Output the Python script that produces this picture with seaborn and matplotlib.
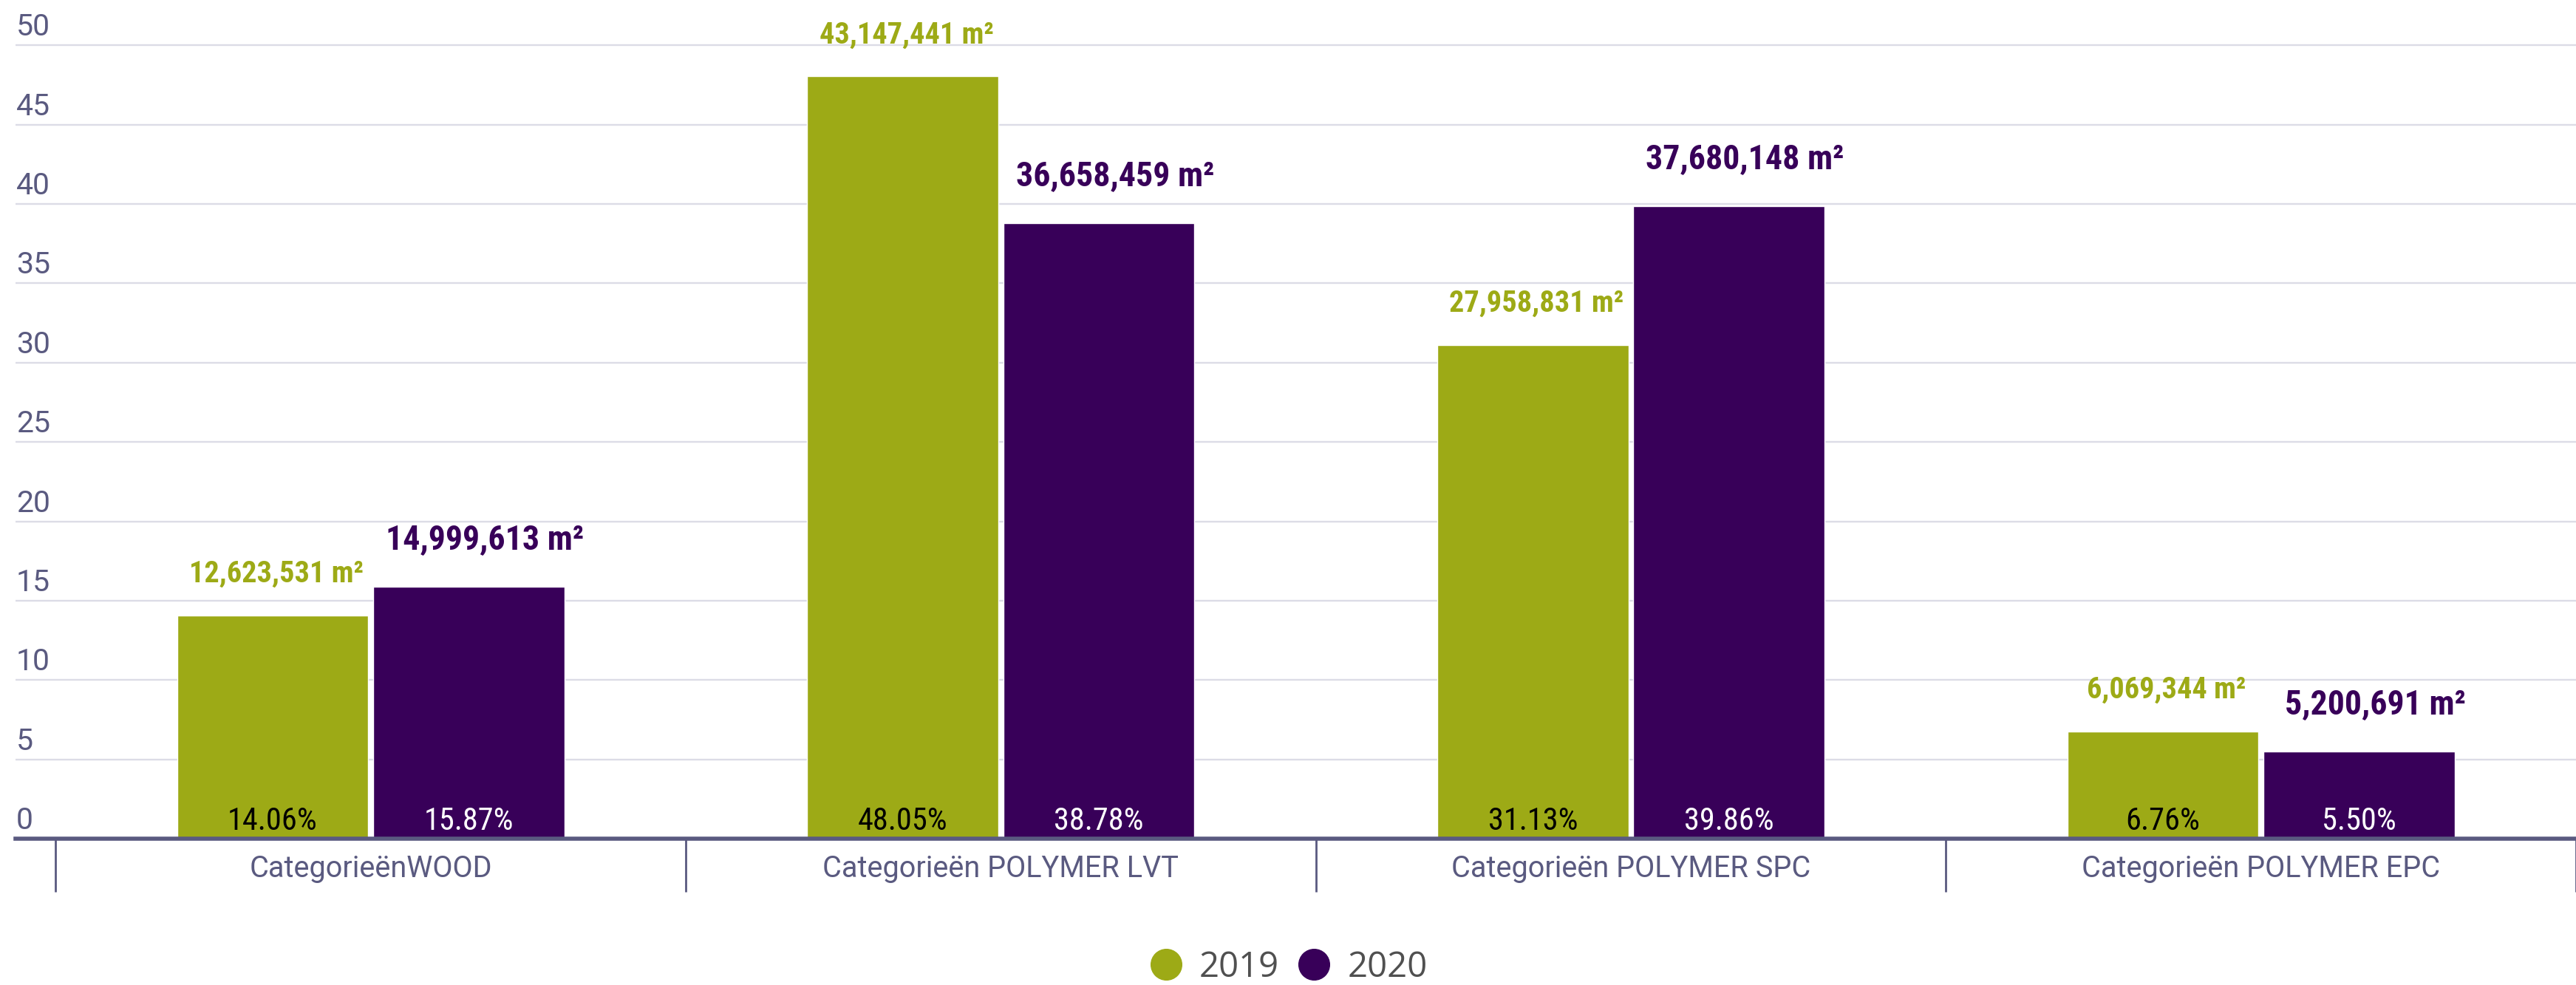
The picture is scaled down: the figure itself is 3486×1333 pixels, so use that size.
import numpy as np
import pandas as pd
import matplotlib
matplotlib.use("Agg")
import matplotlib.pyplot as plt
from matplotlib import font_manager
from matplotlib.lines import Line2D
import seaborn as sns

# ---- data ----
categories = ["CategorieënWOOD", "Categorieën POLYMER LVT",
              "Categorieën POLYMER SPC", "Categorieën POLYMER EPC"]
years = ["2019", "2020"]
share_2019 = [14.06, 48.05, 31.13, 6.76]
share_2020 = [15.87, 38.78, 39.86, 5.50]
area_2019 = ["12,623,531", "43,147,441", "27,958,831", "6,069,344"]
area_2020 = ["14,999,613", "36,658,459", "37,680,148", "5,200,691"]
y_ticks = [0, 5, 10, 15, 20, 25, 30, 35, 40, 45, 50]

GREEN = "#9DAA16"
PURPLE = "#380059"
AXIS_COL = "#5A5A80"
GRID_COL = "#DCDCE6"

df = pd.DataFrame({
    "category": categories * 2,
    "year": [years[0]] * 4 + [years[1]] * 4,
    "share": share_2019 + share_2020,
})

sns.set_theme(style="white")
avail = {f.name for f in font_manager.fontManager.ttflist}
COND = "Roboto Condensed" if "Roboto Condensed" in avail else "DejaVu Sans"
cond_kw = {"family": [COND, "DejaVu Sans"]}
if COND == "DejaVu Sans":
    cond_kw["stretch"] = "condensed"
plt.rcParams["font.family"] = ["Roboto", "DejaVu Sans"]

W, H = 3486, 1333
Y0 = 1135  # pixel row of value 0
fig = plt.figure(figsize=(W / 100, H / 100), dpi=100)
ax_left = 21 / W
ax = fig.add_axes([ax_left, (H - Y0) / H, 1 - ax_left, Y0 / H])

sns.barplot(data=df, x="category", y="share", hue="year",
            palette=[GREEN, PURPLE], width=0.622, gap=0.025,
            saturation=1, legend=False, ax=ax, errorbar=None)

ax.set_xlim(-0.5637, 3.481)
ax.set_ylim(0, 52.86)
ax.set_xlabel("")
ax.set_ylabel("")
for s in ["top", "right", "left"]:
    ax.spines[s].set_visible(False)
ax.spines["bottom"].set_color(AXIS_COL)
ax.spines["bottom"].set_linewidth(4.0)
ax.spines["bottom"].set_zorder(5)

# grid + y labels (inside, above the lines)
ax.set_yticks(y_ticks)
ax.set_yticklabels([])
ax.tick_params(axis="y", length=0, left=False)
ax.yaxis.grid(True, color=GRID_COL, linewidth=1.7)
ax.set_axisbelow(True)
ytrans = matplotlib.transforms.blended_transform_factory(ax.transAxes, ax.transData)
for v in y_ticks:
    ax.annotate(str(v), xy=(0.0, v), xycoords=ytrans, xytext=(1, 13),
                textcoords="offset pixels", ha="left", va="baseline",
                fontsize=29.5, color=AXIS_COL)

# x ticks: labels centred, separators as minor ticks
ax.set_xticks(range(len(categories)))
ax.set_xticklabels(categories, fontsize=28.5, color=AXIS_COL)
ax.tick_params(axis="x", which="major", length=0, pad=15)
ax.set_xticks([-0.5, 0.5, 1.5, 2.5, 3.5], minor=True)
ax.tick_params(axis="x", which="minor", bottom=True, length=52, width=2,
               color=AXIS_COL, direction="out")

# value labels above bars, percentages inside at bottom
value_labels = [area_2019, area_2020]
value_cols = [GREEN, PURPLE]
value_sizes = [29, 33]
value_dy = [45, 51]
value_dx = [5, 22]
pct_cols = ["black", "white"]
for i, cont in enumerate(ax.containers):
    shares = share_2019 if i == 0 else share_2020
    for bar, s, t in zip(cont, shares, value_labels[i]):
        cx = bar.get_x() + bar.get_width() / 2
        ax.annotate(f"{t} m²", xy=(cx, bar.get_height()),
                    xytext=(value_dx[i], value_dy[i]),
                    textcoords="offset pixels", ha="center", va="baseline",
                    fontsize=value_sizes[i], fontweight="bold",
                    color=value_cols[i], annotation_clip=False, **cond_kw)
        ax.annotate(f"{s:.2f}%", xy=(cx, 0), xytext=(0, 12),
                    textcoords="offset pixels", ha="center", va="baseline",
                    fontsize=30.5, color=pct_cols[i], **cond_kw)

# legend
handles = [Line2D([], [], marker="o", linestyle="", markersize=30,
                  markerfacecolor=c, markeredgecolor=c) for c in value_cols]
fig.legend(handles, years, loc="center", bbox_to_anchor=(0.5, 24 / H),
           ncol=2, frameon=False, handletextpad=0.45, handlelength=1.0,
           columnspacing=0.5, labelcolor="#505050",
           prop={"family": ["Open Sans", "DejaVu Sans"], "size": 34})

fig.savefig("out.png", dpi=100)
